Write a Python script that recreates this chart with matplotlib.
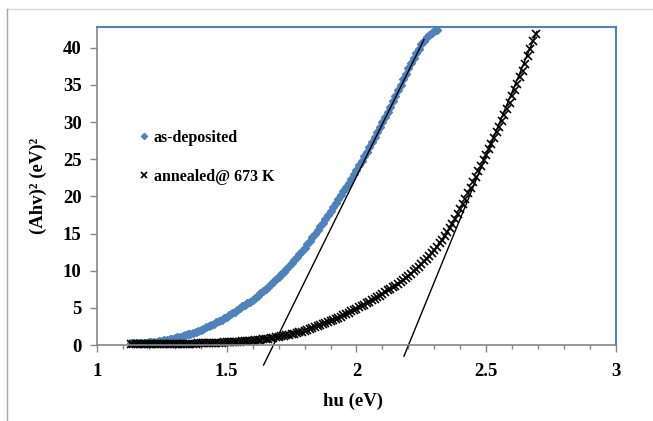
import matplotlib
matplotlib.use('Agg')
import matplotlib.pyplot as plt
from matplotlib.ticker import MultipleLocator, FuncFormatter
from matplotlib.lines import Line2D

# (Ahv)^2 vs photon energy, as-deposited film
blue_ev = [1.13, 1.14, 1.15, 1.16, 1.17, 1.18, 1.19, 1.20, 1.21, 1.22,
           1.23, 1.24, 1.25, 1.26, 1.27, 1.28, 1.29, 1.30, 1.31, 1.32,
           1.33, 1.34, 1.35, 1.36, 1.37, 1.38, 1.39, 1.40, 1.41, 1.42,
           1.43, 1.44, 1.45, 1.46, 1.47, 1.48, 1.49, 1.50, 1.51, 1.52,
           1.53, 1.54, 1.55, 1.56, 1.57, 1.58, 1.59, 1.60, 1.61, 1.62,
           1.63, 1.64, 1.65, 1.66, 1.67, 1.68, 1.69, 1.70, 1.71,
           1.72, 1.73, 1.74, 1.75, 1.76, 1.77, 1.78, 1.79, 1.80, 1.81,
           1.82, 1.83, 1.84, 1.85, 1.86, 1.87, 1.88, 1.89, 1.90, 1.91,
           1.92, 1.93, 1.94, 1.95, 1.96, 1.97, 1.98, 1.99, 2.00, 2.01,
           2.02, 2.03, 2.04, 2.05, 2.06, 2.07, 2.08, 2.09, 2.10, 2.11,
           2.12, 2.13, 2.14, 2.15, 2.16, 2.17, 2.18, 2.19, 2.20, 2.21,
           2.22, 2.23, 2.24, 2.25, 2.26, 2.27, 2.28, 2.29, 2.30, 2.31]
blue_y = [0.21, 0.22, 0.23, 0.25, 0.27, 0.29, 0.32, 0.35, 0.39, 0.43,
          0.47, 0.52, 0.58, 0.64, 0.71, 0.78, 0.85, 0.94, 1.02, 1.12,
          1.21, 1.32, 1.43, 1.54, 1.67, 1.79, 1.93, 2.07, 2.21, 2.37,
          2.53, 2.69, 2.86, 3.04, 3.23, 3.42, 3.62, 3.82, 4.03, 4.25,
          4.48, 4.71, 4.95, 5.19, 5.42, 5.63, 5.85, 6.11, 6.38, 6.66,
          6.95, 7.25, 7.55, 7.86, 8.18, 8.51, 8.84, 9.18, 9.52,
          9.88, 10.25, 10.63, 11.02, 11.42, 11.83, 12.25, 12.68, 13.12, 13.57,
          14.03, 14.50, 14.98, 15.47, 15.97, 16.48, 17.00, 17.53, 18.04, 18.55,
          19.08, 19.61, 20.15, 20.70, 21.27, 21.83, 22.41, 23.00, 23.59, 24.19,
          24.80, 25.41, 26.04, 26.68, 27.32, 27.98, 28.65, 29.32, 30.00, 30.69,
          31.39, 32.10, 32.81, 33.54, 34.27, 35.00, 35.77, 36.53, 37.25, 37.95,
          38.65, 39.30, 39.90, 40.45, 40.95, 41.40, 41.75, 42.00, 42.20, 42.40]

# annealed @ 673 K
black_ev = [1.13, 1.14, 1.15, 1.16, 1.17, 1.18, 1.19, 1.20, 1.21, 1.22,
            1.23, 1.24, 1.25, 1.26, 1.27, 1.28, 1.29, 1.30, 1.31, 1.32,
            1.33, 1.34, 1.35, 1.36, 1.37, 1.38, 1.39, 1.40, 1.41, 1.42,
            1.43, 1.44, 1.45, 1.46, 1.47, 1.48, 1.49, 1.50, 1.51, 1.52,
            1.53, 1.54, 1.55, 1.56, 1.57, 1.58, 1.59, 1.60, 1.61, 1.62,
            1.63, 1.64, 1.65, 1.66, 1.67, 1.68, 1.69, 1.70, 1.71, 1.72,
            1.73, 1.74, 1.75, 1.76, 1.77, 1.78, 1.79, 1.80, 1.81, 1.82,
            1.83, 1.84, 1.85, 1.86, 1.87, 1.88, 1.89, 1.90, 1.91, 1.92,
            1.93, 1.94, 1.95, 1.96, 1.97, 1.98, 1.99, 2.00, 2.01, 2.02,
            2.03, 2.04, 2.05, 2.06, 2.07, 2.08, 2.09, 2.10, 2.11, 2.12,
            2.13, 2.14, 2.15, 2.16, 2.17, 2.18, 2.19,
            2.20, 2.21, 2.22, 2.23, 2.24, 2.25, 2.26, 2.27, 2.28, 2.29,
            2.30, 2.31, 2.32, 2.33, 2.34, 2.35, 2.36, 2.37, 2.38, 2.39,
            2.40, 2.41, 2.42, 2.43, 2.44, 2.45, 2.46, 2.47, 2.48, 2.49,
            2.50, 2.51, 2.52, 2.53, 2.54, 2.55, 2.56, 2.57, 2.58, 2.59,
            2.60, 2.61, 2.62, 2.63, 2.64, 2.65, 2.66, 2.67, 2.68, 2.69]
black_y = [0.10, 0.10, 0.10, 0.11, 0.11, 0.11, 0.12, 0.12, 0.12, 0.12,
           0.13, 0.13, 0.13, 0.14, 0.14, 0.15, 0.15, 0.15, 0.15, 0.16,
           0.17, 0.17, 0.18, 0.19, 0.20, 0.20, 0.21, 0.22, 0.23, 0.25,
           0.26, 0.27, 0.28, 0.30, 0.31, 0.33, 0.34, 0.35, 0.37, 0.39,
           0.41, 0.43, 0.46, 0.48, 0.51, 0.54, 0.57, 0.60, 0.64, 0.68,
           0.72, 0.77, 0.82, 0.87, 0.93, 0.98, 1.04, 1.10, 1.17, 1.24,
           1.31, 1.38, 1.46, 1.54, 1.63, 1.72, 1.81, 1.90, 2.01, 2.13,
           2.25, 2.37, 2.50, 2.63, 2.77, 2.91, 3.05, 3.20, 3.35, 3.51,
           3.67, 3.83, 4.00, 4.17, 4.35, 4.53, 4.72, 4.90, 5.08, 5.26,
           5.44, 5.62, 5.80, 6.01, 6.22, 6.44, 6.66, 6.89, 7.12, 7.34,
           7.56, 7.78, 8.00, 8.25, 8.50, 8.76, 9.03,
           9.30, 9.60, 9.91, 10.23, 10.56, 10.90, 11.26, 11.63, 12.01, 12.40,
           12.80, 13.24, 13.70, 14.18, 14.68, 15.20, 15.76, 16.34, 16.95, 17.60,
           18.30, 19.00, 19.72, 20.45, 21.20, 21.95, 22.68, 23.40, 24.12, 24.84,
           25.56, 26.32, 27.08, 27.84, 28.62, 29.40, 30.20, 31.00, 31.82, 32.64,
           33.48, 34.32, 35.18, 36.05, 36.93, 37.82, 38.90, 39.90, 40.90, 41.90]

# linear extrapolations to the energy axis
fit1_x = [1.642, 2.260]
fit1_y = [-2.7, 41.1]
fit2_x = [2.183, 2.695]
fit2_y = [-1.5, 42.2]

plt.rcParams['font.family'] = 'Liberation Serif'
plt.rcParams['font.weight'] = 'bold'

fig = plt.figure(figsize=(6.53, 4.21), dpi=100)
ax = fig.add_axes([0.1485, 0.1805, 0.7948, 0.7553])

ax.plot(blue_ev, blue_y, linestyle='none', marker='D', ms=4.4,
        color='#4F81BD', mec='#4F81BD', label='as-deposited', clip_on=False)
ax.plot(black_ev, black_y, linestyle='none', marker='x', ms=5.4, mew=1.2,
        color='black', label='annealed@ 673 K', clip_on=False)
ax.plot(fit1_x, fit1_y, color='black', lw=1, clip_on=False)
ax.plot(fit2_x, fit2_y, color='black', lw=1, clip_on=False)

ax.set_xlim(1, 3)
ax.set_ylim(0, 42.8)

for s in ['left', 'bottom']:
    ax.spines[s].set_color('#868686')
    ax.spines[s].set_linewidth(1.2)
for s in ['top', 'right']:
    ax.spines[s].set_color('#4F81BD')
    ax.spines[s].set_linewidth(1.5)

ax.xaxis.set_major_locator(MultipleLocator(0.5))
ax.xaxis.set_minor_locator(MultipleLocator(0.1))
ax.yaxis.set_major_locator(MultipleLocator(5))
ax.xaxis.set_major_formatter(FuncFormatter(lambda v, p: '%g' % v))
ax.tick_params(axis='x', which='major', direction='out', length=5, width=1,
               color='#868686', labelsize=13.5, pad=8)
ax.tick_params(axis='x', which='minor', direction='out', length=3, width=1,
               color='#868686')
ax.tick_params(axis='y', which='major', direction='out', length=5, width=1,
               color='#868686', labelsize=13.5, pad=6)

ax.set_xlabel('hu (eV)', fontsize=13.5, fontweight='bold')
ax.set_ylabel('(Ahv)² (eV)²', fontsize=13.5, fontweight='bold')
ax.xaxis.set_label_coords(0.493, -0.151)
ax.yaxis.set_label_coords(-0.096, 0.5)

ax.legend(loc='center left', bbox_to_anchor=(0.082, 0.59), frameon=False,
          prop={'size': 11.5, 'weight': 'bold'}, handlelength=0.6,
          handletextpad=0.3, labelspacing=1.45, borderpad=0, borderaxespad=0,
          numpoints=1, markerscale=0.7)

# outer chart frame edges
fig.add_artist(Line2D([7 / 653, 1], [1 - 9 / 421, 1 - 9 / 421],
                      transform=fig.transFigure, color='#d9d9d9', lw=1))
fig.add_artist(Line2D([7 / 653, 7 / 653], [0, 1 - 9 / 421],
                      transform=fig.transFigure, color='#a6a6a6', lw=1))

fig.savefig('out.png', dpi=100)
